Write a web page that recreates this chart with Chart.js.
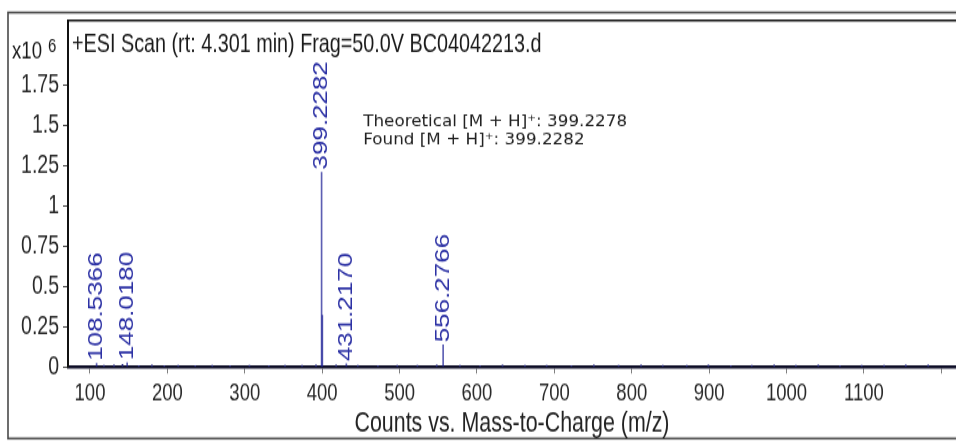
<!DOCTYPE html>
<html>
<head>
<meta charset="utf-8">
<script src="https://cdn.jsdelivr.net/npm/chart.js@4"></script>
<style>
  html, body { margin: 0; padding: 0; background: #fff; }
  #outer { width: 956px; height: 442px; overflow: hidden; position: relative; }
  /* the reference picture is stretched vertically, so the whole chart is too */
  #wrap { position: absolute; left: 0; top: 0; width: 956px; height: 340px; transform: scaleY(1.3); transform-origin: 0 0; }
</style>
</head>
<body>
<div id="outer"><div id="wrap"><canvas id="chartMS"></canvas></div></div>
<script>
// ===== データ =====
const peakMz     = [108.5366, 148.0180, 399.2282, 400.2316, 431.2170, 556.2766];
const peakCounts = [22000, 26000, 1211000, 322000, 20000, 137000];
const peakLabels = ['108.5366', '148.0180', '399.2282', '', '431.2170', '556.2766'];

// baseline noise (rough)
const noiseMz     = [118, 131, 142, 163, 180, 196, 214, 236, 258, 281, 306, 331, 352, 374, 392, 418, 446, 472, 497, 523, 548, 578, 604, 633, 662, 690, 722, 751, 783, 812, 840, 871, 899, 928, 955, 984, 1012, 1041, 1069, 1097, 1126, 1154, 1183];
const noiseCounts = [9000, 12000, 15000, 8000, 11000, 7000, 9000, 8000, 10000, 7000, 9000, 8000, 10000, 9000, 11000, 12000, 9000, 8000, 10000, 9000, 11000, 10000, 8000, 12000, 9000, 10000, 8000, 11000, 9000, 12000, 10000, 9000, 11000, 8000, 10000, 12000, 9000, 11000, 8000, 10000, 9000, 11000, 12000];

const xTicks      = [100, 200, 300, 400, 500, 600, 700, 800, 900, 1000, 1100, 1200];
const xTickLabels = ['100', '200', '300', '400', '500', '600', '700', '800', '900', '1000', '1100', ''];
const yTicks      = [0, 250000, 500000, 750000, 1000000, 1250000, 1500000, 1750000];
const yTickLabels = ['0', '0.25', '0.5', '0.75', '1', '1.25', '1.5', '1.75'];

const scanTitle  = '+ESI Scan (rt: 4.301 min) Frag=50.0V BC04042213.d';
const axisTitle  = 'Counts vs. Mass-to-Charge (m/z)';
const noteLines  = ['Theoretical [M + H]\u207A: 399.2278', 'Found [M + H]\u207A: 399.2282'];
const noteAt     = { mz: 453, counts: 1500000 };

// ===== 設定 =====
const S = 1.3;              // vertical stretch
const H = 442 / S;          // canvas height in chart units
const FONT = "'Liberation Sans', Arial, sans-serif";
const BLUE = '#2d32a5';

const framePlugin = {
  id: 'frame',
  beforeDraw(chart) {
    const { ctx } = chart;
    ctx.save();
    ctx.fillStyle = '#fff';
    ctx.fillRect(0, 0, chart.width, chart.height);
    ctx.strokeStyle = '#4a4a4a';
    ctx.lineWidth = 1.6;
    ctx.strokeRect(8, 12.5 / S, chart.width + 20, 426 / S);
    ctx.restore();
  },
  afterDraw(chart) {
    const { ctx, chartArea: a, scales } = chart;
    ctx.save();
    // top edge of the plot frame
    ctx.strokeStyle = '#111';
    ctx.lineWidth = 1.5;
    ctx.beginPath();
    ctx.moveTo(a.left - 1, a.top);
    ctx.lineTo(a.right + 2, a.top);
    ctx.stroke();

    ctx.fillStyle = '#1a1a1a';
    ctx.textAlign = 'left';
    ctx.textBaseline = 'alphabetic';
    ctx.font = `19.8px ${FONT}`;
    ctx.fillText(scanTitle, 72, 51.7 / S);

    ctx.font = `18.6px ${FONT}`;
    ctx.fillText('x10', 12, 58.5 / S);
    ctx.font = `15px ${FONT}`;
    ctx.fillText('6', 48, 52.5 / S);

    // note text is not stretched in the reference
    ctx.scale(1, 1 / S);
    ctx.fillStyle = '#222';
    ctx.font = "16.8px 'DejaVu Sans', Verdana, sans-serif";
    const nx = scales.x.getPixelForValue(noteAt.mz);
    const ny = scales.y.getPixelForValue(noteAt.counts) * S;
    noteLines.forEach((t, i) => ctx.fillText(t, nx, ny + i * 18.6));
    ctx.restore();
  }
};

const peakLabelPlugin = {
  id: 'peakLabels',
  afterDatasetsDraw(chart) {
    const { ctx, scales } = chart;
    ctx.save();
    ctx.fillStyle = BLUE;
    ctx.font = `20px ${FONT}`;
    ctx.textAlign = 'left';
    ctx.textBaseline = 'middle';
    peakMz.forEach((mz, i) => {
      if (!peakLabels[i]) return;
      const px = scales.x.getPixelForValue(mz);
      const py = scales.y.getPixelForValue(peakCounts[i]);
      ctx.save();
      ctx.translate(px, py - 2);
      ctx.rotate(-Math.PI / 2);
      ctx.fillText(peakLabels[i], 0, 0);
      ctx.restore();
    });
    ctx.restore();
  }
};

new Chart(document.getElementById('chartMS'), {
  type: 'bar',
  data: {
    datasets: [
      {
        label: 'noise',
        data: noiseMz.map((m, i) => ({ x: m, y: noiseCounts[i] })),
        backgroundColor: '#25287e',
        barThickness: 1,
        grouped: false,
      },
      {
        label: 'peaks',
        data: peakMz.map((m, i) => ({ x: m, y: peakCounts[i] })),
        backgroundColor: 'rgba(30, 33, 150, 0.72)',
        barThickness: 1,
        grouped: false,
      },
    ]
  },
  options: {
    responsive: true,
    maintainAspectRatio: false,
    animation: false,
    events: [],
    layout: { padding: { left: 8, top: 20 / S, right: 0, bottom: 0 } },
    plugins: {
      legend: { display: false },
      tooltip: { enabled: false },
    },
    scales: {
      x: {
        type: 'linear',
        min: 71.6,
        max: 1218.9,
        offset: false,
        afterBuildTicks: ax => { ax.ticks = xTicks.map(v => ({ value: v })); },
        afterFit: ax => { ax.height = H - 367 / S; },
        grid: { display: true, drawOnChartArea: false, drawTicks: true, offset: false, tickLength: 5, tickColor: '#808080', tickWidth: 1 },
        border: { display: true, color: '#0d0d26', width: 2.5 },
        ticks: {
          padding: 4.2,
          autoSkip: false,
          maxRotation: 0,
          color: '#2a2a2a',
          font: { family: FONT, size: 18.5 },
          callback: (v, i) => xTickLabels[i],
        },
        title: {
          display: true,
          text: axisTitle,
          color: '#222',
          font: { family: FONT, size: 21.4 },
          padding: { top: 0, bottom: 0.8 },
        },
      },
      y: {
        min: 0,
        max: 2155000,
        afterBuildTicks: ax => { ax.ticks = yTicks.map(v => ({ value: v })); },
        afterFit: ax => { ax.width = 60; },
        grid: { display: true, drawOnChartArea: false, drawTicks: true, tickLength: 5, tickColor: '#444', tickWidth: 1 },
        border: { display: true, color: '#111', width: 2 },
        ticks: {
          padding: 4,
          color: '#2a2a2a',
          font: { family: FONT, size: 19.5 },
          callback: (v, i) => yTickLabels[i],
        },
      },
    },
  },
  plugins: [framePlugin, peakLabelPlugin],
});
</script>
</body>
</html>
